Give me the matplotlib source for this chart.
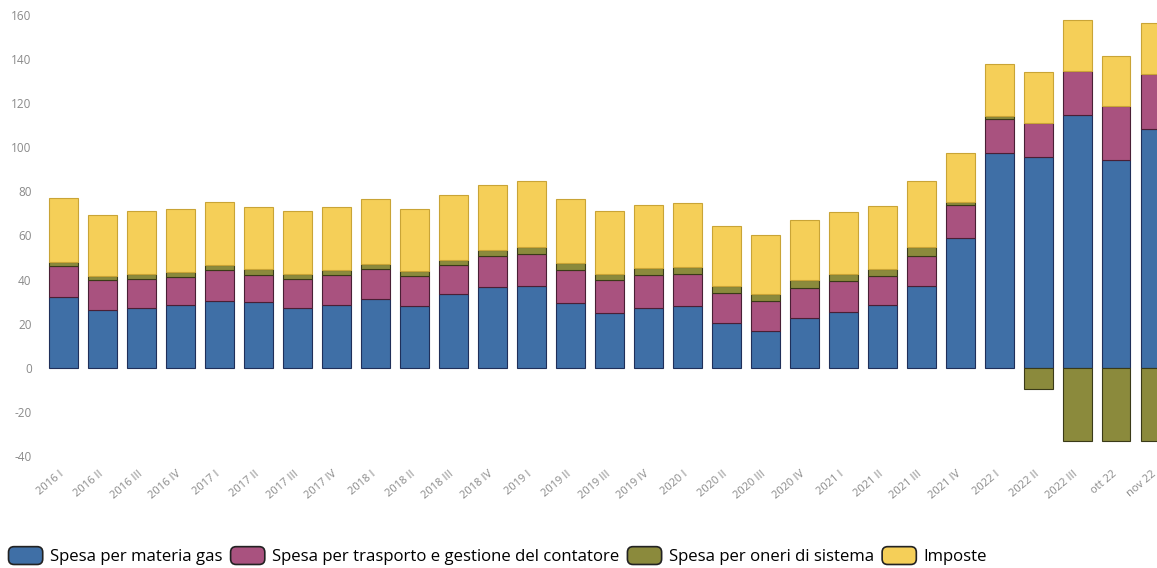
import matplotlib
matplotlib.use("Agg")
import matplotlib.pyplot as plt
import matplotlib.transforms as mtransforms
import numpy as np
from matplotlib.patches import FancyBboxPatch
from matplotlib.legend_handler import HandlerPatch

categories = ["2016 I", "2016 II", "2016 III", "2016 IV", "2017 I", "2017 II", "2017 III", "2017 IV",
              "2018 I", "2018 II", "2018 III", "2018 IV", "2019 I", "2019 II", "2019 III", "2019 IV",
              "2020 I", "2020 II", "2020 III", "2020 IV", "2021 I", "2021 II", "2021 III", "2021 IV",
              "2022 I", "2022 II", "2022 III", "ott 22", "nov 22"]

materia_gas = [32.2, 26.0, 27.2, 28.4, 30.5, 29.7, 27.3, 28.4,
               31.0, 28.2, 33.4, 36.5, 37.3, 29.5, 24.9, 27.2,
               28.2, 20.4, 16.6, 22.8, 25.4, 28.4, 37.0, 58.9,
               97.3, 95.6, 114.8, 94.4, 108.5]
trasporto = [13.9, 13.6, 13.1, 12.9, 13.7, 12.6, 13.0, 13.6,
             13.9, 13.3, 13.3, 14.3, 14.4, 14.9, 14.8, 15.0,
             14.4, 13.6, 13.8, 13.5, 13.9, 13.4, 13.6, 14.8,
             15.6, 15.5, 19.8, 24.5, 24.6]
oneri = [1.8, 2.2, 2.3, 2.2, 2.3, 2.3, 2.3, 2.4,
         2.4, 2.2, 2.3, 2.4, 3.0, 3.0, 3.0, 3.0,
         3.3, 3.3, 3.1, 3.3, 3.1, 3.1, 4.2, 1.7,
         1.3, -9.8, -33.0, -33.0, -33.0]
imposte = [29.0, 27.7, 28.3, 28.3, 28.7, 28.4, 28.4, 28.4,
           29.1, 28.4, 29.2, 29.9, 30.2, 29.0, 28.6, 28.8,
           28.7, 27.2, 26.8, 27.6, 28.4, 28.5, 30.1, 21.9,
           23.7, 23.2, 23.0, 22.7, 23.4]

series_names = ["Spesa per materia gas", "Spesa per trasporto e gestione del contatore",
                "Spesa per oneri di sistema", "Imposte"]
colors = ["#3f6fa6", "#a9527f", "#8b8a3c", "#f5cf58"]
edges = ["#1f2f5a", "#4a1f35", "#3a3a18", "#c9a436"]

plt.rcParams['font.family'] = ['Open Sans', 'DejaVu Sans']
plt.rcParams['axes.unicode_minus'] = False

fig = plt.figure(figsize=(11.57, 5.68), dpi=100)
ax = fig.add_axes([40/1157, 1-456/568, 1-40/1157, (456-15)/568])

x = np.arange(len(categories))
w = 0.74
mg = np.array(materia_gas)
tr = np.array(trasporto)
on = np.array(oneri)
im = np.array(imposte)

ax.bar(x, mg, w, color=colors[0], edgecolor=edges[0], linewidth=0.8, label=series_names[0])
ax.bar(x, tr, w, bottom=mg, color=colors[1], edgecolor=edges[1], linewidth=0.8, label=series_names[1])
on_bottom = np.where(on >= 0, mg + tr, 0)
ax.bar(x, on, w, bottom=on_bottom, color=colors[2], edgecolor=edges[2], linewidth=0.8, label=series_names[2])
im_bottom = mg + tr + np.clip(on, 0, None)
ax.bar(x, im, w, bottom=im_bottom, color=colors[3], edgecolor=edges[3], linewidth=0.8, label=series_names[3])

ax.set_xlim(-0.6, 28.05)
ax.set_ylim(-40, 160)
ax.set_yticks(np.arange(-40, 161, 20))
for s in ax.spines.values():
    s.set_visible(False)
ax.tick_params(axis='both', length=0, colors="#8a8a8a", labelsize=8.5)
ax.tick_params(axis='y', pad=6)
ax.tick_params(axis='x', pad=9)
ax.set_xticks(x)
ax.set_xticklabels(categories, rotation=40, ha='right', rotation_mode='anchor', fontsize=8, color="#8a8a8a")
offset = mtransforms.ScaledTranslation(-4/100, 0, fig.dpi_scale_trans)
for lab in ax.get_xticklabels():
    lab.set_transform(lab.get_transform() + offset)


class RoundHandler(HandlerPatch):
    def create_artists(self, legend, orig_handle, xdescent, ydescent, width, height, fontsize, trans):
        p = FancyBboxPatch((-xdescent + 1, -ydescent - 1), width - 2, height + 2,
                           boxstyle="round,pad=0,rounding_size=4",
                           facecolor=orig_handle.get_facecolor(), edgecolor="#222222",
                           linewidth=1.2, transform=trans)
        return [p]

handles, labels = ax.get_legend_handles_labels()
patches = [hh.patches[0] for hh in handles]
handler_map = {p: RoundHandler() for p in patches}
fig.legend(patches, labels, loc='lower left', bbox_to_anchor=(-0.004, -0.016), ncol=4, frameon=False,
           fontsize=12.1, handlelength=2.2, handleheight=1.0, handletextpad=0.35, columnspacing=0.4,
           handler_map=handler_map, borderaxespad=0.3)

fig.savefig("out.png", dpi=100)
